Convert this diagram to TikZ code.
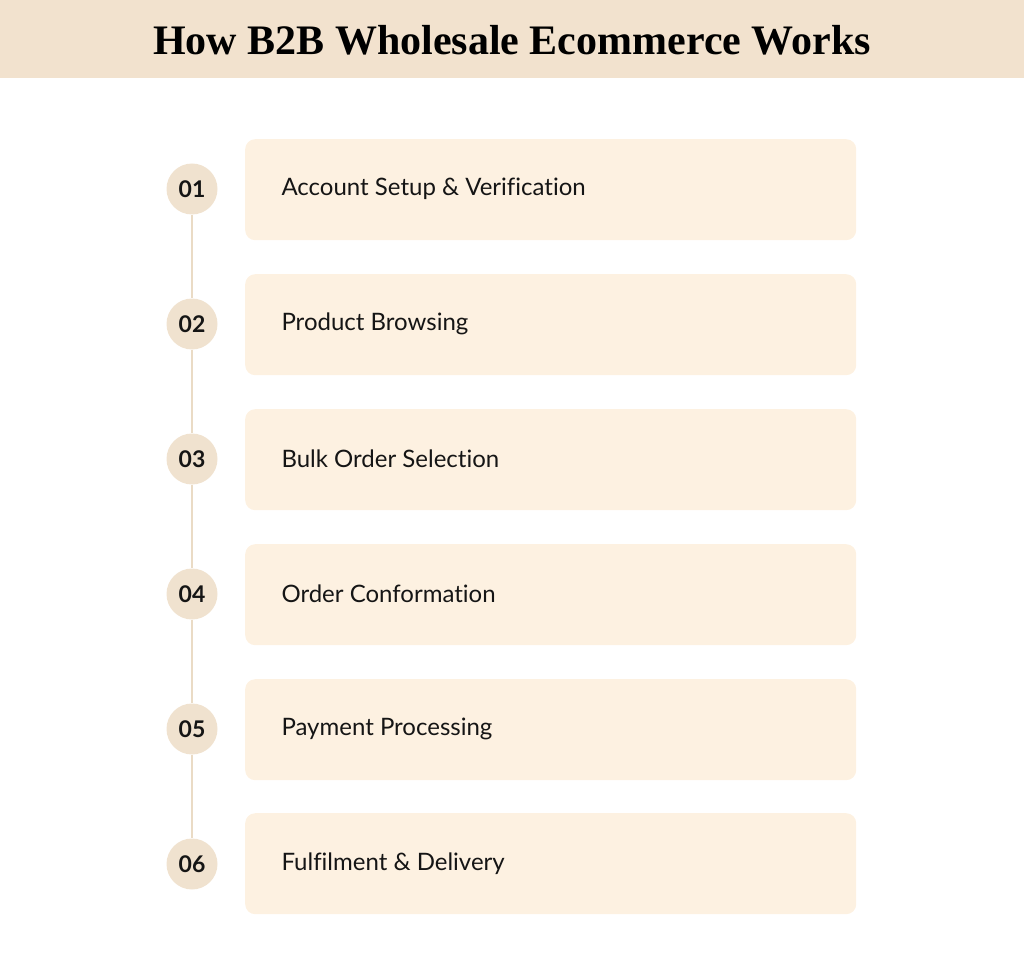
\documentclass[tikz,border=0pt]{standalone}
\usepackage{fontspec}
\setmainfont[Ligatures=NoCommon]{Lato}
\newfontfamily\titlefont{Liberation Serif}
\definecolor{band}{HTML}{F2E2CE}
\definecolor{card}{HTML}{FDF1E1}
\definecolor{dot}{HTML}{F0E2CF}
\definecolor{rail}{HTML}{EADBC5}
\definecolor{ink}{HTML}{151515}
\begin{document}
\begin{tikzpicture}[x=1pt, y=-1pt,
    stepcard/.style={fill=card, rounded corners=10pt, minimum width=611pt, minimum height=101pt, anchor=north west},
    stepnum/.style={circle, fill=dot, minimum size=51pt, inner sep=0pt, text=ink, font=\fontsize{23}{23}\selectfont\bfseries},
    steptext/.style={anchor=west, text=ink, font=\fontsize{24}{24}\selectfont}]
    \useasboundingbox (0, 0) rectangle (1024, 973);
    \fill[band] (0, 0) rectangle (1024, 78);
    \node[font=\titlefont\fontsize{42}{42}\selectfont\bfseries, text=black] (title) at (512, 40) {How B2B Wholesale Ecommerce Works};
    \node[stepcard] (c1) at (245, 139) {};
    \node[stepcard] (c2) at (245, 274) {};
    \node[stepcard] (c3) at (245, 409) {};
    \node[stepcard] (c4) at (245, 544) {};
    \node[stepcard] (c5) at (245, 679) {};
    \node[stepcard] (c6) at (245, 813) {};
    \node[stepnum] (n1) at (192, 189) {01};
    \node[stepnum] (n2) at (192, 324) {02};
    \node[stepnum] (n3) at (192, 459) {03};
    \node[stepnum] (n4) at (192, 594) {04};
    \node[stepnum] (n5) at (192, 729) {05};
    \node[stepnum] (n6) at (192, 864) {06};
    \draw[rail, line width=1.5pt] (n1) -- (n2);
    \draw[rail, line width=1.5pt] (n2) -- (n3);
    \draw[rail, line width=1.5pt] (n3) -- (n4);
    \draw[rail, line width=1.5pt] (n4) -- (n5);
    \draw[rail, line width=1.5pt] (n5) -- (n6);
    \node[steptext] (t1) at (278, 189) {Account Setup \& Verification};
    \node[steptext] (t2) at (278, 324) {Product Browsing};
    \node[steptext] (t3) at (278, 459) {Bulk Order Selection};
    \node[steptext] (t4) at (278, 594) {Order Conformation};
    \node[steptext] (t5) at (278, 729) {Payment Processing};
    \node[steptext] (t6) at (278, 864) {Fulfilment \& Delivery};
\end{tikzpicture}
\end{document}
